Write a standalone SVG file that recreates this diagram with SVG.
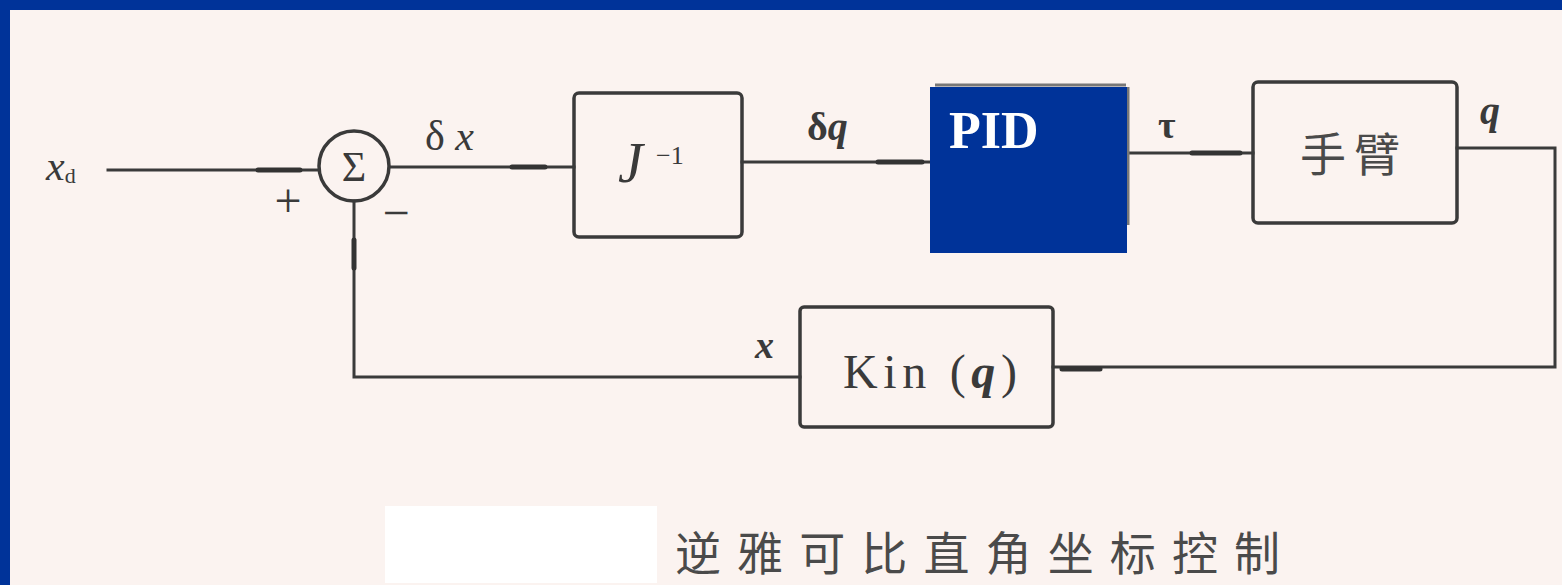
<svg xmlns="http://www.w3.org/2000/svg" width="1562" height="585" viewBox="0 0 1562 585">
  <style>
    .ln { fill: none; stroke: #3a3a3a; stroke-width: 3; stroke-linecap: square; }
    .thk { fill: none; stroke: #333; stroke-width: 5; stroke-linecap: round; }
    .box { fill: none; stroke: #3a3a3a; stroke-width: 3.5; }
    .m { font-family: "Liberation Serif", serif; fill: #3a3a3a; }
    .it { font-style: italic; }
    .cjk { font-family: "Noto Sans CJK SC", "Noto Sans CJK JP", sans-serif; fill: #4a4a4a; }
  </style>
  <rect x="0" y="0" width="1562" height="585" fill="#fbf3f0"/>
  <rect x="0" y="0" width="1562" height="10" fill="#003399"/>
  <rect x="0" y="0" width="10" height="585" fill="#003399"/>

  <g id="connectors">
    <path class="ln" d="M108,170 H318"/>
    <path class="thk" d="M258,170 H300"/>
    <path class="ln" d="M390,167 H574"/>
    <path class="thk" d="M512,167 H545"/>
    <path class="ln" d="M742,162 H929"/>
    <path class="thk" d="M878,162 H922"/>
    <path class="ln" d="M1128,153 H1253"/>
    <path class="thk" d="M1192,153 H1240"/>
    <path class="ln" d="M1457,148 H1555 V367 H1053"/>
    <path class="thk" d="M1062,369 H1100"/>
    <path class="ln" d="M800,377 H354 V201"/>
    <path class="thk" d="M354,240 V268"/>
  </g>

  <g id="input">
    <text class="m it" x="46" y="180" font-size="42">x<tspan font-size="22" dy="3" font-style="normal">d</tspan></text>
  </g>

  <g id="sum">
    <circle cx="354" cy="166" r="35" fill="none" stroke="#3a3a3a" stroke-width="3.5"/>
    <text class="m" x="354" y="181" font-size="42" text-anchor="middle">Σ</text>
    <text class="m" x="288" y="217" font-size="48" text-anchor="middle">+</text>
    <text class="m" x="396" y="229" font-size="48" text-anchor="middle">−</text>
  </g>

  <g id="label-dx">
    <text class="m" x="425" y="150" font-size="42">δ <tspan class="it">x</tspan></text>
  </g>

  <g id="jinv">
    <rect class="box" x="574" y="93" width="168" height="144" rx="5"/>
    <text class="m it" x="618" y="182" font-size="56">J</text>
    <text class="m" x="656" y="164" font-size="26">−1</text>
  </g>

  <g id="label-dq">
    <text class="m" x="807" y="140" font-size="40" font-weight="bold">δ<tspan class="it">q</tspan></text>
  </g>

  <g id="pid">
    <path d="M935,85 H1126 M1128,87 V225" fill="none" stroke="#777" stroke-width="3"/>
    <rect x="930" y="87" width="197" height="166" fill="#003399"/>
    <text x="949" y="148" font-family="Liberation Serif, serif" font-weight="bold" font-size="52" fill="#ffffff">PID</text>
  </g>

  <g id="label-tau">
    <text class="m" x="1158" y="138" font-size="38" font-weight="bold">τ</text>
  </g>

  <g id="arm">
    <rect class="box" x="1253" y="82" width="204" height="141" rx="5"/>
    <text class="cjk" x="1354" y="171" font-size="46" text-anchor="middle" letter-spacing="8">手臂</text>
  </g>

  <g id="label-q">
    <text class="m it" x="1480" y="124" font-size="40" font-weight="bold">q</text>
  </g>

  <g id="kin">
    <rect class="box" x="800" y="307" width="253" height="120" rx="4"/>
    <text class="m" x="843" y="388" font-size="48" textLength="174" lengthAdjust="spacing">Kin (<tspan class="it" font-weight="bold">q</tspan>)</text>
  </g>

  <g id="label-x">
    <text class="m it" x="755" y="358" font-size="38" font-weight="bold">x</text>
  </g>

  <g id="caption">
    <rect x="385" y="506" width="272" height="77" fill="#ffffff"/>
    <text class="cjk" x="675" y="570" font-size="46" textLength="605" lengthAdjust="spacing">逆雅可比直角坐标控制</text>
  </g>
</svg>
